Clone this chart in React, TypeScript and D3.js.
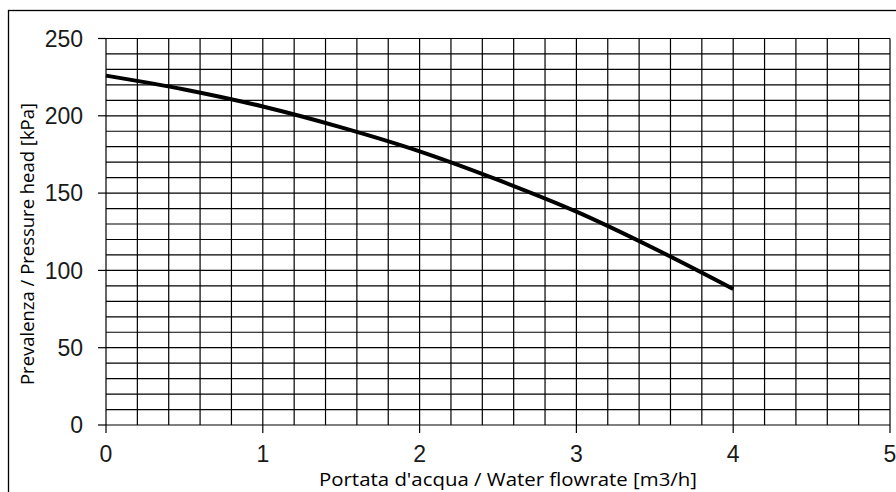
import { useEffect, useRef } from "react"
import * as d3 from "d3"

// flow rate [m3/h] and head [kPa]
const flowRates = [0, 0.5, 1, 1.5, 2, 2.5, 3, 3.5, 4]
const heads = [226, 217, 206, 192.5, 177, 158.5, 138, 114, 88]

const xTicks = [0, 1, 2, 3, 4, 5]
const yTicks = [0, 50, 100, 150, 200, 250]

export default function App() {
  const svgRef = useRef<SVGSVGElement>(null)

  useEffect(() => {
    if (!svgRef.current) return
    const svg = d3.select(svgRef.current)
    svg.selectAll("*").remove()

    const margin = { left: 106, right: 890, top: 38.5, bottom: 425 }

    const x = d3.scaleLinear().domain([0, 5]).range([margin.left, margin.right])
    const y = d3.scaleLinear().domain([0, 250]).range([margin.bottom, margin.top])

    // outer frame
    svg
      .append("rect")
      .attr("x", 8.5)
      .attr("y", 10.5)
      .attr("width", 900)
      .attr("height", 500)
      .attr("fill", "none")
      .attr("stroke", "#000")
      .attr("stroke-width", 1.3)

    const grid = svg.append("g").attr("stroke", "#000").attr("stroke-width", 1.2)

    // horizontal grid every 10 kPa
    grid
      .selectAll("line.h")
      .data(d3.range(0, 251, 10))
      .join("line")
      .attr("class", "h")
      .attr("x1", margin.left)
      .attr("x2", margin.right)
      .attr("y1", (d) => y(d))
      .attr("y2", (d) => y(d))

    // vertical grid every 0.2 m3/h
    grid
      .selectAll("line.v")
      .data(d3.range(0, 26).map((i) => i * 0.2))
      .join("line")
      .attr("class", "v")
      .attr("x1", (d) => x(d))
      .attr("x2", (d) => x(d))
      .attr("y1", margin.top)
      .attr("y2", margin.bottom)

    const tickFont = "'Liberation Sans', Arial, sans-serif"

    // y axis
    const yAxis = svg.append("g")
    yAxis
      .selectAll("line")
      .data(yTicks)
      .join("line")
      .attr("x1", margin.left - 8)
      .attr("x2", margin.left)
      .attr("y1", (d) => y(d))
      .attr("y2", (d) => y(d))
      .attr("stroke", "#000")
      .attr("stroke-width", 1.2)
    yAxis
      .selectAll("text")
      .data(yTicks)
      .join("text")
      .attr("x", margin.left - 23)
      .attr("y", (d) => y(d))
      .attr("dy", "0.36em")
      .attr("text-anchor", "end")
      .attr("font-family", tickFont)
      .attr("font-size", 23)
      .attr("fill", "#1a1a1a")
      .text((d) => d)

    // x axis
    const xAxis = svg.append("g")
    xAxis
      .selectAll("line")
      .data(xTicks)
      .join("line")
      .attr("x1", (d) => x(d))
      .attr("x2", (d) => x(d))
      .attr("y1", margin.bottom)
      .attr("y2", margin.bottom + 8)
      .attr("stroke", "#000")
      .attr("stroke-width", 1.2)
    xAxis
      .selectAll("text")
      .data(xTicks)
      .join("text")
      .attr("x", (d) => x(d))
      .attr("y", 462)
      .attr("text-anchor", "middle")
      .attr("font-family", tickFont)
      .attr("font-size", 23)
      .attr("fill", "#1a1a1a")
      .text((d) => d)

    // axis titles
    svg
      .append("text")
      .attr("x", 508)
      .attr("y", 486)
      .attr("text-anchor", "middle")
      .attr("font-family", "'Open Sans', 'Noto Sans', sans-serif")
      .attr("font-size", 19)
      .attr("textLength", 378)
      .attr("lengthAdjust", "spacingAndGlyphs")
      .attr("fill", "#000")
      .text("Portata d'acqua / Water flowrate [m3/h]")

    svg
      .append("text")
      .attr("transform", "translate(34, 244) rotate(-90)")
      .attr("text-anchor", "middle")
      .attr("font-family", "'Open Sans', 'Noto Sans', sans-serif")
      .attr("font-size", 18)
      .attr("textLength", 282)
      .attr("lengthAdjust", "spacingAndGlyphs")
      .attr("fill", "#000")
      .text("Prevalenza / Pressure head [kPa]")

    // pump curve
    const line = d3
      .line<number>()
      .x((_, i) => x(flowRates[i]))
      .y((d) => y(d))
      .curve(d3.curveMonotoneX)

    svg
      .append("path")
      .datum(heads)
      .attr("d", line)
      .attr("fill", "none")
      .attr("stroke", "#000")
      .attr("stroke-width", 4)
  }, [])

  return (
    <svg
      ref={svgRef}
      width={896}
      height={492}
      style={{ position: "absolute", left: 0, top: 0, background: "#fff" }}
    />
  )
}
